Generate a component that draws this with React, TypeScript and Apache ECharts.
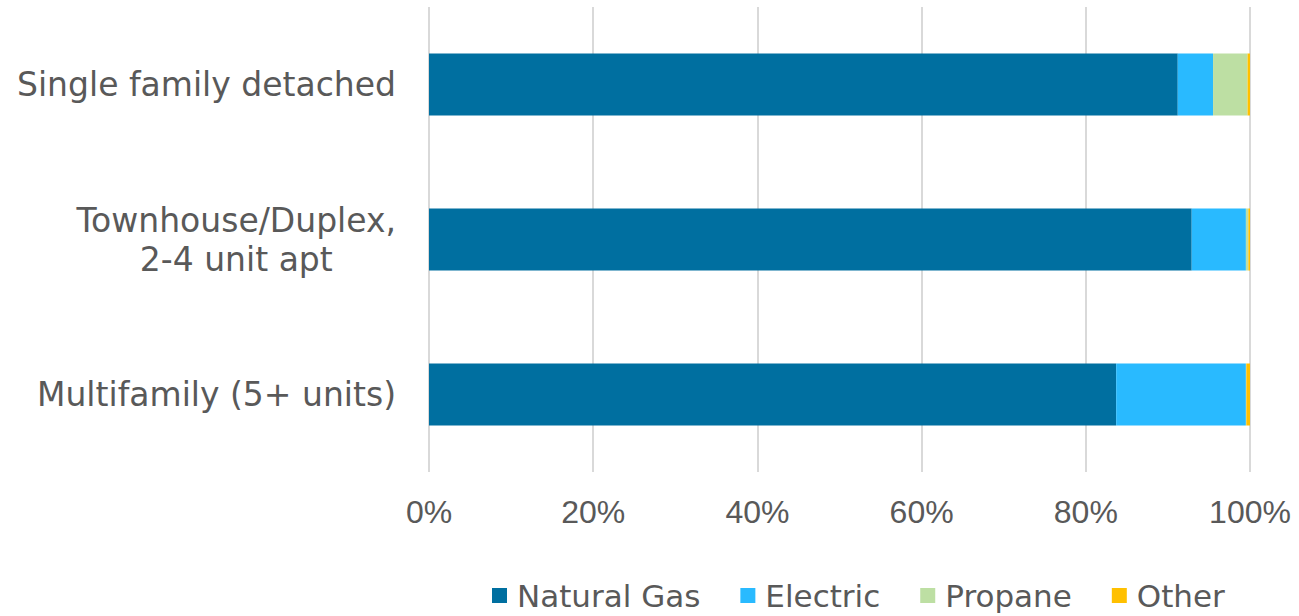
import React, { useEffect, useRef } from "react";
import * as echarts from "echarts";

const categories = ["Single family detached", "Townhouse/Duplex,\n2-4 unit apt", "Multifamily (5+ units)"];
const seriesNames = ["Natural Gas", "Electric", "Propane", "Other"];
const naturalGas = [91.2, 92.9, 83.7];
const electric = [4.3, 6.6, 15.8];
const propane = [4.2, 0.3, 0.05];
const other = [0.3, 0.2, 0.45];
const colors = ["#006FA0", "#29BAFF", "#BDDFA3", "#FFC000"];
const xTicks = [0, 20, 40, 60, 80, 100];

export default function App() {
  const ref = useRef<HTMLDivElement>(null);
  useEffect(() => {
    if (!ref.current) return;
    const chart = echarts.init(ref.current, null, { renderer: "svg" });
    const values = [naturalGas, electric, propane, other];
    chart.setOption({
      animation: false,
      backgroundColor: "#ffffff",
      grid: { left: 429, right: 49, top: 7, bottom: 144, containLabel: false },
      xAxis: {
        type: "value",
        min: xTicks[0],
        max: xTicks[xTicks.length - 1],
        interval: 20,
        axisLine: { show: false },
        axisTick: { show: false },
        splitLine: { show: true, lineStyle: { color: "#D9D9D9", width: 2 } },
        axisLabel: {
          formatter: "{value}%",
          color: "#595959",
          fontFamily: "Liberation Sans",
          fontSize: 32,
          margin: 24,
        },
      },
      yAxis: {
        type: "category",
        inverse: true,
        data: categories,
        axisLine: { show: false },
        axisTick: { show: false },
        axisLabel: {
          color: "#595959",
          fontFamily: "DejaVu Sans",
          fontSize: 33,
          margin: 33,
          formatter: (v: string) =>
            v
              .split("\n")
              .map((l) => "{c|" + l + "}")
              .join("\n"),
          rich: {
            c: {
              align: "center",
              color: "#595959",
              fontFamily: "DejaVu Sans",
              fontSize: 33,
              lineHeight: 39,
            },
          },
        },
      },
      legend: {
        top: 575,
        left: 487,
        itemWidth: 15,
        itemHeight: 15,
        itemGap: 40,
        icon: "rect",
        textStyle: {
          color: "#595959",
          fontFamily: "DejaVu Sans",
          fontSize: 31,
          padding: [0, 0, 0, 5],
        },
        data: seriesNames,
      },
      series: seriesNames.map((name, i) => ({
        name,
        type: "bar",
        stack: "total",
        barWidth: "40%",
        itemStyle: { color: colors[i] },
        data: values[i],
      })),
    });
    return () => chart.dispose();
  }, []);
  return (
    <div
      ref={ref}
      style={{ position: "fixed", left: 0, top: 0, width: 1299, height: 616 }}
    />
  );
}
